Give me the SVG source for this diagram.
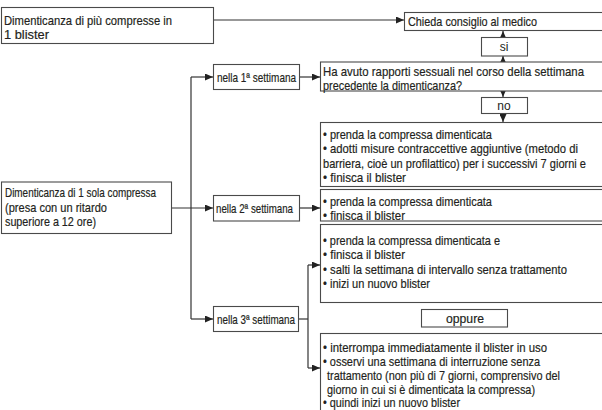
<svg xmlns="http://www.w3.org/2000/svg" width="602" height="410" viewBox="0 0 602 410">
<defs>
<style>
.box{fill:#fff;stroke:#4a4a4a;stroke-width:1.1}
.t{font-family:"Liberation Sans Narrow","Liberation Sans",Arial,sans-serif;font-size:13.5px;fill:#231f20;stroke:#231f20;stroke-width:0.2}
.c{font-family:"Liberation Sans","DejaVu Sans",sans-serif;font-size:12px;fill:#231f20;text-anchor:middle}
.cn{fill:none;stroke:#333;stroke-width:1.2}
</style>
<marker id="ah" markerUnits="userSpaceOnUse" markerWidth="8" markerHeight="7" refX="8" refY="3.5" orient="auto">
<path d="M0,0 L8,3.5 L0,7 z" fill="#222"/>
</marker>
</defs>
<rect width="602" height="410" fill="#fff"/>

<g id="connectors">
<path class="cn" d="M213,20 H404" marker-end="url(#ah)"/>
<path class="cn" d="M299,77 H320" marker-end="url(#ah)"/>
<path class="cn" d="M191,77 V319"/>
<path class="cn" d="M191,77 H213" marker-end="url(#ah)"/>
<path class="cn" d="M191,319 H213" marker-end="url(#ah)"/>
<path class="cn" d="M171,208 H213" marker-end="url(#ah)"/>
<path class="cn" d="M299,208 H320" marker-end="url(#ah)"/>
<path class="cn" d="M298,319 H308"/>
<path class="cn" d="M308,265 V368"/>
<path class="cn" d="M308,265 H320" marker-end="url(#ah)"/>
<path class="cn" d="M308,368 H320" marker-end="url(#ah)"/>
<path class="cn" d="M503,62 V56" marker-end="url(#ah)"/>
<path class="cn" d="M503,37 V31" marker-end="url(#ah)"/>
<path class="cn" d="M503,91 V97" marker-end="url(#ah)"/>
<path class="cn" d="M503,113 V122" marker-end="url(#ah)"/>
</g>

<g id="n-piu">
<rect class="box" x="1.5" y="7.5" width="212" height="36"/>
<text class="t" x="4" y="24.5" textLength="168" lengthAdjust="spacingAndGlyphs">Dimenticanza di più compresse in</text>
<text class="t" x="4" y="39" textLength="45" lengthAdjust="spacingAndGlyphs">1 blister</text>
</g>

<g id="n-medico">
<rect class="box" x="404.5" y="12.5" width="200" height="18"/>
<text class="t" x="408" y="25.5" textLength="129" lengthAdjust="spacingAndGlyphs">Chieda consiglio al medico</text>
</g>

<g id="n-si">
<rect class="box" x="481.5" y="37.5" width="46" height="18.5"/>
<text class="c" x="504" y="51">si</text>
</g>

<g id="n-rapporti">
<rect class="box" x="320.5" y="62" width="284" height="29"/>
<text class="t" x="323" y="76" textLength="261" lengthAdjust="spacingAndGlyphs">Ha avuto rapporti sessuali nel corso della settimana</text>
<text class="t" x="323" y="89.5" textLength="139" lengthAdjust="spacingAndGlyphs">precedente la dimenticanza?</text>
</g>

<g id="n-no">
<rect class="box" x="481.5" y="97.5" width="46" height="16"/>
<text class="c" x="504" y="110">no</text>
</g>

<g id="n-azioni1">
<rect class="box" x="320.5" y="122.5" width="284" height="64"/>
<text class="t" x="323" y="138.5" textLength="169" lengthAdjust="spacingAndGlyphs">• prenda la compressa dimenticata</text>
<text class="t" x="323" y="153" textLength="255" lengthAdjust="spacingAndGlyphs">• adotti misure contraccettive aggiuntive (metodo di</text>
<text class="t" x="323" y="167.5" textLength="263" lengthAdjust="spacingAndGlyphs">barriera, cioè un profilattico) per i successivi 7 giorni e</text>
<text class="t" x="323" y="181.5" textLength="83" lengthAdjust="spacingAndGlyphs">• finisca il blister</text>
</g>

<g id="n-sett1">
<rect class="box" x="213.5" y="64.5" width="86" height="25"/>
<text class="t" x="217" y="81.5" textLength="79" lengthAdjust="spacingAndGlyphs">nella 1ª settimana</text>
</g>

<g id="n-una">
<rect class="box" x="1.5" y="182" width="170" height="51.5"/>
<text class="t" x="5" y="197" textLength="151" lengthAdjust="spacingAndGlyphs">Dimenticanza di 1 sola compressa</text>
<text class="t" x="5" y="211.5" textLength="102" lengthAdjust="spacingAndGlyphs">(presa con un ritardo</text>
<text class="t" x="5" y="225.5" textLength="91" lengthAdjust="spacingAndGlyphs">superiore a 12 ore)</text>
</g>

<g id="n-sett2">
<rect class="box" x="213.5" y="195.5" width="86" height="25.5"/>
<text class="t" x="216" y="212.5" textLength="77" lengthAdjust="spacingAndGlyphs">nella 2ª settimana</text>
</g>

<g id="n-azioni2">
<rect class="box" x="320.5" y="189.5" width="284" height="31.5"/>
<text class="t" x="323" y="206" textLength="169" lengthAdjust="spacingAndGlyphs">• prenda la compressa dimenticata</text>
<text class="t" x="323" y="219.5" textLength="82" lengthAdjust="spacingAndGlyphs">• finisca il blister</text>
</g>

<g id="n-azioni3a">
<rect class="box" x="320.5" y="224.5" width="284" height="78"/>
<text class="t" x="323" y="245" textLength="177" lengthAdjust="spacingAndGlyphs">• prenda la compressa dimenticata e</text>
<text class="t" x="323" y="259" textLength="82" lengthAdjust="spacingAndGlyphs">• finisca il blister</text>
<text class="t" x="323" y="273.5" textLength="244" lengthAdjust="spacingAndGlyphs">• salti la settimana di intervallo senza trattamento</text>
<text class="t" x="323" y="287.5" textLength="107" lengthAdjust="spacingAndGlyphs">• inizi un nuovo blister</text>
</g>

<g id="n-sett3">
<rect class="box" x="213.5" y="306.5" width="85" height="25"/>
<text class="t" x="217" y="323.5" textLength="78" lengthAdjust="spacingAndGlyphs">nella 3ª settimana</text>
</g>

<g id="n-oppure">
<rect class="box" x="421.5" y="309.5" width="86" height="17.5"/>
<text class="t" x="446" y="322.5" textLength="38" lengthAdjust="spacingAndGlyphs">oppure</text>
</g>

<g id="n-azioni3b">
<rect class="box" x="320.5" y="333.5" width="284" height="90"/>
<text class="t" x="323" y="351.5" textLength="224" lengthAdjust="spacingAndGlyphs">• interrompa immediatamente il blister in uso</text>
<text class="t" x="323" y="365.5" textLength="217" lengthAdjust="spacingAndGlyphs">• osservi una settimana di interruzione senza</text>
<text class="t" x="327" y="379.5" textLength="233" lengthAdjust="spacingAndGlyphs">trattamento (non più di 7 giorni, comprensivo del</text>
<text class="t" x="327" y="393.5" textLength="208" lengthAdjust="spacingAndGlyphs">giorno in cui si è dimenticata la compressa)</text>
<text class="t" x="323" y="407" textLength="137" lengthAdjust="spacingAndGlyphs">• quindi inizi un nuovo blister</text>
</g>
</svg>
